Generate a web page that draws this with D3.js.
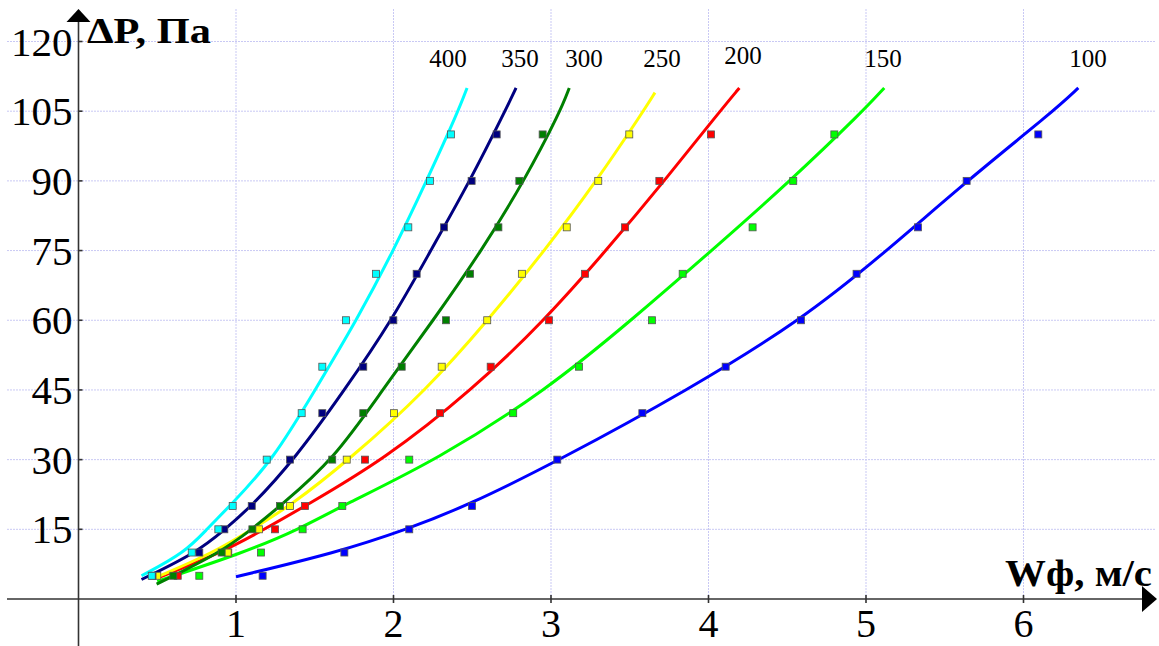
<!DOCTYPE html>
<html>
<head>
<meta charset="utf-8">
<script src="https://cdn.jsdelivr.net/npm/d3@7"></script>
<style>
  body { margin: 0; background: #fff; }
  svg { display: block; }
  text { font-family: "Liberation Serif", "Times New Roman", serif; fill: #000; }
</style>
</head>
<body>
<div id="chart"></div>
<script>
// measured pressure drops, same for every series
const dpLevels = [5, 10, 15, 20, 30, 40, 50, 60, 70, 80, 90, 100];

// velocity for each level, one list per series (label = series name)
const names = ["100", "150", "200", "250", "300", "350", "400"];
const colors = ["#0000ff", "#00ff00", "#ff0000", "#ffff00", "#008000", "#000080", "#00ffff"];

const w100 = [1.169, 1.688, 2.10, 2.498, 3.04, 3.58, 4.109, 4.587, 4.94, 5.33, 5.639, 6.094];
const w150 = [0.767, 1.159, 1.423, 1.675, 2.10, 2.76, 3.178, 3.641, 3.836, 4.28, 4.538, 4.799];
const w200 = [0.63, 0.951, 1.248, 1.438, 1.819, 2.295, 2.617, 2.987, 3.216, 3.47, 3.688, 4.016];
const w250 = [0.50, 0.947, 1.146, 1.343, 1.703, 2.003, 2.306, 2.595, 2.815, 3.10, 3.30, 3.497];
const w300 = [0.602, 0.909, 1.104, 1.279, 1.611, 1.808, 2.052, 2.333, 2.486, 2.666, 2.799, 2.947];
const w350 = [0.47, 0.767, 0.926, 1.10, 1.343, 1.548, 1.808, 1.999, 2.147, 2.321, 2.496, 2.655];
const w400 = [0.465, 0.719, 0.888, 0.979, 1.195, 1.417, 1.548, 1.698, 1.889, 2.094, 2.232, 2.365];

// trend curves: [w, dP]
const fit100 = [[1.0, 4.8], [1.639, 10], [2.084, 15], [2.464, 20], [3.06, 30], [3.87, 45], [4.59, 60], [5.135, 75], [5.64, 90], [6.19, 105], [6.348, 110]];
const fit150 = [[0.50, 3.8], [1.05, 10], [1.40, 15], [1.67, 20], [2.28, 30], [2.973, 45], [3.51, 60], [4.02, 75], [4.52, 90], [4.98, 105], [5.116, 110]];
const fit200 = [[0.50, 4.5], [0.91, 10], [1.18, 15], [1.438, 20], [1.94, 30], [2.50, 45], [2.96, 60], [3.35, 75], [3.72, 90], [4.073, 105], [4.196, 110]];
const fit250 = [[0.496, 4.7], [0.86, 10], [1.10, 15], [1.343, 20], [1.72, 30], [2.21, 45], [2.60, 60], [2.96, 75], [3.29, 90], [3.586, 105], [3.66, 109]];
const fit300 = [[0.496, 3.2], [0.90, 10], [1.10, 15], [1.28, 20], [1.62, 30], [1.93, 45], [2.253, 60], [2.56, 75], [2.83, 90], [3.06, 105], [3.116, 110]];
const fit350 = [[0.40, 4.2], [0.75, 10], [0.93, 15], [1.10, 20], [1.37, 30], [1.69, 45], [1.99, 60], [2.236, 75], [2.486, 90], [2.708, 105], [2.778, 110]];
const fit400 = [[0.40, 5.0], [0.676, 10], [0.814, 15], [0.96, 20], [1.237, 30], [1.502, 45], [1.766, 60], [2.00, 75], [2.21, 90], [2.411, 105], [2.467, 110]];

// where the series names sit, in data units
const labelAt = [[6.41, 114.5], [5.108, 114.5], [4.219, 115.2], [3.704, 114.5], [3.21, 114.5], [2.803, 114.5], [2.346, 114.5]];

const xTicks = [1, 2, 3, 4, 5, 6];
const yTicks = [15, 30, 45, 60, 75, 90, 105, 120];

const W = 1159, H = 646;
const svg = d3.select("#chart").append("svg").attr("width", W).attr("height", H);

const x = d3.scaleLinear().domain([0, 6]).range([78.5, 1023.5]);
const y = d3.scaleLinear().domain([0, 120]).range([599, 41.5]);

const points = [w100, w150, w200, w250, w300, w350, w400];
const fits = [fit100, fit150, fit200, fit250, fit300, fit350, fit400];

// grid
const grid = svg.append("g").attr("stroke", "#c9c9f4").attr("stroke-width", 1).attr("stroke-dasharray", "2,1");
grid.selectAll("line.h").data(yTicks).enter().append("line")
    .attr("x1", 7).attr("x2", W - 3)
    .attr("y1", d => y(d)).attr("y2", d => y(d));
grid.selectAll("line.v").data(xTicks).enter().append("line")
    .attr("x1", d => x(d)).attr("x2", d => x(d))
    .attr("y1", 9).attr("y2", y(0));

// axes
const ax = svg.append("g").attr("stroke", "#333").attr("stroke-width", 1.6);
ax.append("line").attr("x1", x(0)).attr("x2", x(0)).attr("y1", 20).attr("y2", H);
ax.append("line").attr("x1", 7).attr("x2", 1145).attr("y1", y(0)).attr("y2", y(0));
svg.append("path").attr("fill", "#000")
    .attr("d", `M${x(0)},9 L${x(0) - 12},22 L${x(0) + 12},22 Z`);
svg.append("path").attr("fill", "#000")
    .attr("d", `M1157,${y(0)} L1142,${y(0) - 13} L1142,${y(0) + 13} Z`);

ax.selectAll("line.yt").data(yTicks).enter().append("line")
    .attr("x1", x(0)).attr("x2", x(0) + 4)
    .attr("y1", d => y(d)).attr("y2", d => y(d));
ax.selectAll("line.xt").data(xTicks).enter().append("line")
    .attr("x1", d => x(d)).attr("x2", d => x(d))
    .attr("y1", y(0) - 4).attr("y2", y(0) + 4);

svg.selectAll("text.yl").data(yTicks).enter().append("text")
    .attr("x", x(0) - 6).attr("y", d => y(d) + 14)
    .attr("text-anchor", "end").attr("font-size", 41)
    .text(d => d);
svg.selectAll("text.xl").data(xTicks).enter().append("text")
    .attr("x", d => x(d)).attr("y", 637)
    .attr("text-anchor", "middle").attr("font-size", 40)
    .text(d => d);

// axis titles
svg.append("text").attr("x", 87).attr("y", 43)
    .attr("font-size", 36).attr("font-weight", "bold")
    .attr("textLength", 124).attr("lengthAdjust", "spacingAndGlyphs")
    .text("ΔP, Па");
svg.append("text").attr("x", 1005).attr("y", 586)
    .attr("font-size", 38).attr("font-weight", "bold")
    .attr("textLength", 147).attr("lengthAdjust", "spacingAndGlyphs")
    .text("Wф, м/с");

// trend curves (smoothed through the read-off points)
const line = d3.line()
    .x(d => x(d[0])).y(d => y(d[1]))
    .curve(d3.curveBasis);

svg.append("g").selectAll("path").data(fits).enter().append("path")
    .attr("fill", "none")
    .attr("stroke", (d, i) => colors[i])
    .attr("stroke-width", 3)
    .attr("d", line);

// measured points
const s = 7;
points.forEach((ws, i) => {
    svg.append("g").selectAll("rect").data(ws).enter().append("rect")
        .attr("x", d => x(d) - s / 2)
        .attr("y", (d, j) => y(dpLevels[j]) - s / 2)
        .attr("width", s).attr("height", s)
        .attr("fill", colors[i])
        .attr("stroke", "#555").attr("stroke-width", 0.8);
});

// series names
svg.selectAll("text.nm").data(names).enter().append("text")
    .attr("x", (d, i) => x(labelAt[i][0]))
    .attr("y", (d, i) => y(labelAt[i][1]))
    .attr("text-anchor", "middle").attr("font-size", 25)
    .text(d => d);
</script>
</body>
</html>
